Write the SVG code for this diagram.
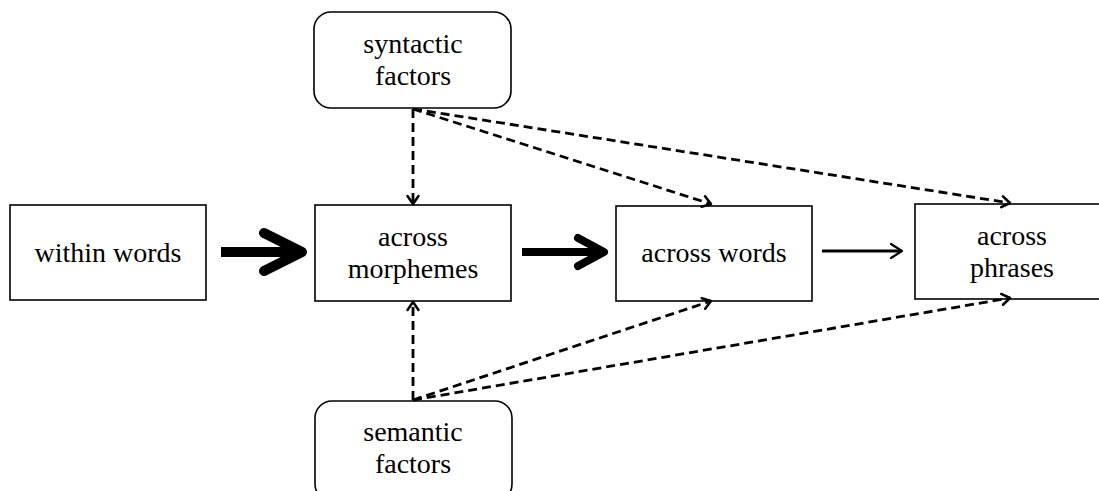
<svg xmlns="http://www.w3.org/2000/svg" width="1099" height="491" viewBox="0 0 1099 491">
<style>
.box{fill:#fff;stroke:#000;stroke-width:1.6}
.t{font-family:"Liberation Serif","Times New Roman",serif;font-size:28px;text-anchor:middle;fill:#000}
.d{fill:none;stroke:#000;stroke-width:2.8;stroke-dasharray:9,5}
.h{fill:none;stroke:#000;stroke-width:2.2;stroke-linecap:round;stroke-linejoin:round}
</style>
<defs>
<marker id="open" markerWidth="16" markerHeight="16" refX="11" refY="8" orient="auto" markerUnits="userSpaceOnUse">
<path d="M3,2.5 L11,8 L3,13.5" fill="none" stroke="#000" stroke-width="2.5" stroke-linecap="round" stroke-linejoin="round"/>
</marker>
</defs>
<rect width="1099" height="491" fill="#fff"/>
<g id="syntactic"><rect class="box" x="314" y="12" width="197" height="96" rx="17"/><text class="t" x="413" y="53">syntactic</text><text class="t" x="413" y="85">factors</text></g>
<g id="within"><rect class="box" x="10" y="205" width="196" height="95"/><text class="t" x="108" y="262">within words</text></g>
<g id="morphemes"><rect class="box" x="315" y="205" width="196" height="96"/><text class="t" x="413" y="246">across</text><text class="t" x="413" y="278">morphemes</text></g>
<g id="words"><rect class="box" x="616" y="206" width="196" height="95"/><text class="t" x="714" y="262">across words</text></g>
<g id="phrases"><rect class="box" x="915" y="204" width="200" height="95"/><text class="t" x="1012" y="245">across</text><text class="t" x="1012" y="277">phrases</text></g>
<g id="semantic"><rect class="box" x="315" y="401" width="197" height="100" rx="17"/><text class="t" x="413" y="441">semantic</text><text class="t" x="413" y="473">factors</text></g>
<g id="connectors">
<path d="M221,252 H300" stroke="#000" stroke-width="10"/>
<path d="M264,233 L302,252 L264,271" fill="none" stroke="#000" stroke-width="10" stroke-linecap="round" stroke-linejoin="round"/>
<path d="M522,252 H602" stroke="#000" stroke-width="8"/>
<path d="M578,238 L604,252 L578,266" fill="none" stroke="#000" stroke-width="8" stroke-linecap="round" stroke-linejoin="round"/>
<path d="M822,251 H900" stroke="#000" stroke-width="2.8"/>
<path d="M891,244 L902,251 L891,258" class="h" stroke-width="2.8"/>
<path class="d" d="M413,109 V204" marker-end="url(#open)"/>
<path class="d" d="M413,109 L711,204" marker-end="url(#open)"/>
<path class="d" d="M413,109 L1010,203" marker-end="url(#open)"/>
<path class="d" d="M413,400 V302" marker-end="url(#open)"/>
<path class="d" d="M413,400 L711,301" marker-end="url(#open)"/>
<path class="d" d="M413,400 L1010,298" marker-end="url(#open)"/>
</g>
</svg>
